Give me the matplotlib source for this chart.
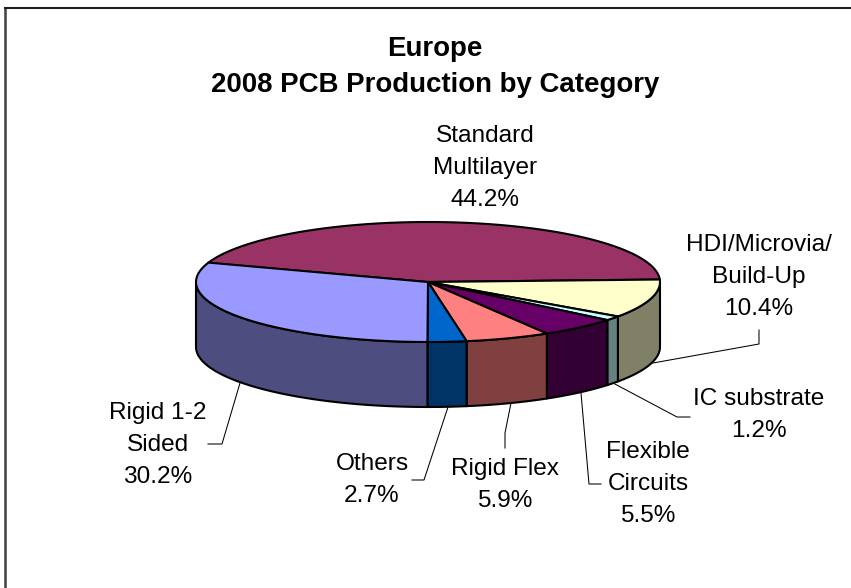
import numpy as np
import matplotlib
matplotlib.use('Agg')
import matplotlib.pyplot as plt

plt.rcParams['font.family'] = ['Liberation Sans', 'DejaVu Sans']

title_text = 'Europe\n2008 PCB Production by Category'

# clockwise from the upper left, as in the picture
categories = ['Standard\nMultilayer', 'HDI/Microvia/\nBuild-Up', 'IC substrate',
              'Flexible\nCircuits', 'Rigid Flex', 'Others', 'Rigid 1-2\nSided']
shares = [44.2, 10.4, 1.2, 5.5, 5.9, 2.7, 30.2]
top_colors = ['#993366', '#FFFFCC', '#CCFFFF', '#660066', '#FF8080', '#0066CC', '#9999FF']
wall_colors = ['#4D1A33', '#808066', '#668080', '#330033', '#804040', '#003366', '#4D4D80']

# label centres and leader lines, in picture pixels
label_xy = [(485, 168), (759, 277), (759, 415), (648, 484), (505, 485), (372, 480), (158, 445)]
leaders = [None,
           [(653, 363), (759, 344), (759, 330)],
           [(613, 383), (677, 417), (690, 417)],
           [(581, 393), (589, 484), (601, 484)],
           [(511, 403), (505, 433), (505, 448)],
           [(448, 407), (424, 480), (412, 480)],
           [(240, 383), (222, 444), (208, 444)]]

cx, cy = 428, 282
rx, ry = 232, 60
depth = 65
start_angle = 161.5


def arc(a0, a1, dy=0):
    n = max(2, int(abs(a1 - a0) / 2) + 2)
    a = np.radians(np.linspace(a0, a1, n))
    return cx + rx * np.cos(a), cy - ry * np.sin(a) + dy


fig = plt.figure(figsize=(8.51, 5.88), dpi=100)
ax = fig.add_axes([0, 0, 1, 1])
ax.set_xlim(0, 851)
ax.set_ylim(588, 0)
ax.axis('off')

# chart frame, only top and left are inside the crop
ax.plot([5, 5], [7, 588], color='#404040', lw=1.8, solid_capstyle='butt')
ax.plot([4, 851], [7.5, 7.5], color='#202020', lw=1.5, solid_capstyle='butt')

ends = start_angle - np.cumsum(shares) * 3.6
starts = np.r_[start_angle, ends[:-1]]

# walls first, only the front half of the rim shows
for a0, a1, c in zip(starts, ends, wall_colors):
    lo, hi = max(a1, -180), min(a0, 0)
    if lo >= hi:
        continue
    x, y = arc(hi, lo)
    xb, yb = arc(lo, hi, depth)
    ax.fill(np.r_[x, xb], np.r_[y, yb], facecolor=c, edgecolor='black', lw=1.5, joinstyle='round')

for a0, a1, c in zip(starts, ends, top_colors):
    x, y = arc(a0, a1)
    ax.fill(np.r_[cx, x], np.r_[cy, y], facecolor=c, edgecolor='black', lw=1.5, joinstyle='round')

for name, v, (lx, ly), c in zip(categories, shares, label_xy, leaders):
    ax.text(lx, ly, f'{name}\n{v:.1f}%', ha='center', va='center', fontsize=17.6,
            color='black', linespacing=1.57)
    if c is not None:
        ax.plot([p[0] for p in c], [p[1] for p in c], color='black', lw=0.75)

ax.text(435, 67, title_text, ha='center', va='center', fontsize=19.9,
        fontweight='bold', color='black', linespacing=1.55)

fig.savefig('out.png', dpi=100)
